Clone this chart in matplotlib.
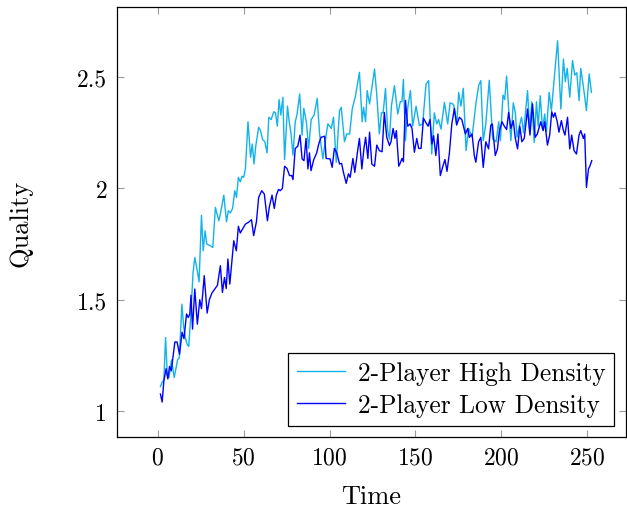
import numpy as np
import matplotlib.pyplot as plt

plt.rcParams['font.family'] = ['cmr10', 'DejaVu Serif']
plt.rcParams['mathtext.fontset'] = 'cm'
plt.rcParams['axes.formatter.use_mathtext'] = True

# 2-Player High Density
high_t = [1.5, 2.5, 3.5, 4.5, 5.5, 6.5, 8, 9.5, 10.5, 11.5, 12.5, 14, 15, 16, 17, 18, 19,
          20.5, 21.5, 22.5, 24, 25.4, 26.4, 27.5, 28.5, 30, 32, 33.5, 34.5, 35.5, 36.5, 38.4,
          40, 41, 42.2, 43.5, 44.8, 45.8, 46.9, 48, 49, 50, 51, 52.5, 54, 55, 56, 57, 58.7,
          59.8, 61, 62.3, 63.6, 64.6, 66, 67.5, 68.5, 69.6, 70.6, 71.6, 72.8, 73.8, 75.5,
          76.5, 77.5, 78.7, 80, 81, 82.6, 84, 85, 86.5, 87.8, 89.3, 91, 92.8, 94.2, 96.1,
          98, 99, 101, 102.3, 103.9, 105.8, 106.8, 108.7, 110, 111.7, 113.2, 115.1, 117.4,
          119, 119.8, 121, 121.9, 123.3, 126.2, 127.5, 129, 130.2, 131.2, 132.6, 133.8,
          134.9, 136, 137.8, 139.7, 141.2, 142.2, 143, 144.2, 145.5, 147.1, 148.4, 150.4,
          152.3, 154.2, 156.2, 157.7, 159.5, 161, 162.4, 163.5, 164.9, 166.9, 168.8, 170.2,
          172.2, 174.1, 175.2, 176.5, 177.9, 179.5, 181, 183, 185.2, 186.8, 188.1, 189.5,
          191, 193, 195, 197, 198.5, 199.5, 201, 202, 203.1, 204.2, 205.6, 207, 208.2,
          209.2, 210.5, 211.8, 213, 215.3, 216.5, 217.8, 219.2, 220.5, 221.5, 222.7, 224,
          225.3, 226.3, 227.9, 229.2, 230.3, 232.8, 234.7, 236.2, 237.3, 238.4, 239.9,
          241.5, 242.8, 244, 245.3, 246.3, 247.8, 249.6, 251.2, 252.5]
high_q = [1.11, 1.13, 1.14, 1.33, 1.16, 1.15, 1.23, 1.15, 1.19, 1.23, 1.24, 1.48, 1.38, 1.33,
          1.30, 1.29, 1.41, 1.62, 1.69, 1.65, 1.58, 1.88, 1.72, 1.81, 1.75, 1.745, 1.735,
          1.915, 1.885, 1.855, 1.89, 1.97, 1.85, 1.90, 1.89, 1.91, 1.99, 1.96, 2.05, 2.03,
          2.055, 2.05, 2.09, 2.30, 2.14, 2.20, 2.11, 2.19, 2.275, 2.26, 2.22, 2.21, 2.16,
          2.32, 2.31, 2.345, 2.34, 2.28, 2.40, 2.33, 2.41, 2.13, 2.37, 2.30, 2.25, 2.15,
          2.30, 2.33, 2.425, 2.24, 2.36, 2.30, 2.18, 2.31, 2.33, 2.405, 2.245, 2.133, 2.24,
          2.29, 2.27, 2.32, 2.118, 2.35, 2.365, 2.21, 2.245, 2.245, 2.357, 2.417, 2.522,
          2.30, 2.365, 2.30, 2.44, 2.38, 2.537, 2.42, 2.245, 2.34, 2.34, 2.45, 2.26, 2.222,
          2.37, 2.462, 2.335, 2.39, 2.39, 2.49, 2.215, 2.36, 2.44, 2.28, 2.37, 2.283, 2.29,
          2.47, 2.485, 2.155, 2.34, 2.29, 2.31, 2.267, 2.387, 2.29, 2.385, 2.378, 2.29,
          2.432, 2.37, 2.45, 2.17, 2.27, 2.23, 2.38, 2.462, 2.485, 2.215, 2.29, 2.486,
          2.222, 2.21, 2.30, 2.215, 2.42, 2.40, 2.505, 2.37, 2.215, 2.385, 2.34, 2.23, 2.28,
          2.32, 2.25, 2.44, 2.267, 2.39, 2.207, 2.39, 2.28, 2.417, 2.267, 2.335, 2.255,
          2.432, 2.35, 2.445, 2.664, 2.357, 2.582, 2.48, 2.54, 2.41, 2.575, 2.51, 2.52,
          2.395, 2.54, 2.46, 2.35, 2.515, 2.432]

# 2-Player Low Density
low_t = [1.5, 2.5, 3.5, 4.8, 5.8, 6.8, 7.8, 9.9, 11.2, 12.6, 14.1, 15.2, 16.7, 17.7, 18.6,
         19.3, 20.2, 21.5, 23, 24.4, 25.4, 27, 28.7, 30, 31.5, 33.3, 34.7, 36.4, 37.6, 38.8,
         39.8, 40.8, 41.9, 44.2, 45.7, 46.9, 48, 49.5, 51, 52.8, 54.5, 55.8, 57.4, 58.7,
         60.5, 62, 63.8, 65, 66.5, 67.8, 69, 70.3, 71.3, 72.5, 73.8, 75.2, 76.7, 78, 78.7,
         80, 81.5, 82.8, 84, 85.1, 86.3, 87.4, 88.3, 89.2, 90.8, 92.5, 93.7, 95, 97.1, 98,
         100.3, 101.5, 102.8, 104.2, 105.8, 107, 108.1, 109.7, 111, 112, 113.6, 114.7,
         116.5, 117.4, 118.8, 120, 121, 122.3, 123.3, 124.6, 126.2, 127.5, 129, 130.6,
         131.9, 133.3, 134.9, 135.8, 137, 138.1, 138.9, 140.3, 141.2, 142.2, 143, 144.2,
         145.5, 146.9, 148, 149.4, 150.8, 151.9, 153.3, 154.7, 155.8, 157.4, 158.5, 159.6,
         160.6, 161.9, 163.1, 164.5, 165.8, 167.2, 168.4, 169.8, 171.2, 172.7, 174, 175.6,
         177, 178, 179.1, 180.5, 181.4, 183, 184.3, 185.2, 186.8, 188.1, 189.5, 191, 192.6,
         193.9, 194.8, 196.5, 197.8, 198.8, 200.4, 201.8, 203.1, 204.3, 205.6, 207, 208.2,
         209.5, 210.8, 212, 213.4, 215.3, 216.7, 218.2, 219.7, 221, 223, 224.4, 225.3,
         226.9, 228.2, 229.4, 230.4, 231.3, 232.6, 233.6, 235, 236.2, 237.1, 238.6, 239.9,
         241, 242.4, 243.8, 245.3, 246.3, 247.8, 248.6, 249.6, 250.8, 251.6, 252.7]
low_q = [1.076, 1.04, 1.136, 1.19, 1.144, 1.20, 1.18, 1.31, 1.31, 1.255, 1.354, 1.325, 1.436,
         1.42, 1.436, 1.52, 1.368, 1.548, 1.39, 1.50, 1.46, 1.608, 1.44, 1.50, 1.53, 1.55,
         1.565, 1.653, 1.533, 1.60, 1.55, 1.683, 1.57, 1.765, 1.72, 1.83, 1.80, 1.82, 1.84,
         1.848, 1.86, 1.788, 1.85, 1.96, 1.99, 1.975, 1.855, 1.92, 1.97, 1.91, 1.97, 1.996,
         1.99, 2.00, 2.10, 2.09, 2.058, 2.058, 2.04, 2.18, 2.19, 2.24, 2.133, 2.125, 2.225,
         2.088, 2.16, 2.08, 2.13, 2.16, 2.20, 2.23, 2.235, 2.135, 2.133, 2.095, 2.18, 2.16,
         2.11, 2.113, 2.072, 2.023, 2.066, 2.05, 2.135, 2.072, 2.178, 2.225, 2.088, 2.178,
         2.23, 2.135, 2.253, 2.11, 2.10, 2.195, 2.17, 2.165, 2.342, 2.23, 2.193, 2.21, 2.27,
         2.225, 2.26, 2.10, 2.115, 2.135, 2.12, 2.396, 2.28, 2.29, 2.27, 2.163, 2.225, 2.18,
         2.18, 2.316, 2.30, 2.28, 2.31, 2.20, 2.237, 2.148, 2.245, 2.058, 2.095, 2.13, 2.077,
         2.16, 2.29, 2.36, 2.285, 2.32, 2.31, 2.28, 2.245, 2.27, 2.23, 2.245, 2.148, 2.118,
         2.21, 2.23, 2.095, 2.21, 2.178, 2.285, 2.29, 2.148, 2.178, 2.253, 2.30, 2.28, 2.265,
         2.342, 2.27, 2.305, 2.225, 2.178, 2.28, 2.21, 2.225, 2.357, 2.24, 2.38, 2.23, 2.245,
         2.30, 2.26, 2.30, 2.195, 2.24, 2.345, 2.32, 2.34, 2.30, 2.253, 2.305, 2.26, 2.24,
         2.32, 2.178, 2.24, 2.17, 2.155, 2.24, 2.26, 2.225, 2.245, 2.005, 2.088, 2.10, 2.125]

fig = plt.figure(figsize=(6.27, 5.10), dpi=100)
ax = fig.add_axes([0.1866, 0.1412, 0.8114, 0.8428])

ax.plot(high_t, high_q, color='#12b2ea', lw=1.0, label='2-Player High Density')
ax.plot(low_t, low_q, color='#0000ff', lw=1.0, label='2-Player Low Density')

ax.set_xlim(-23.8, 272.5)
ax.set_ylim(0.883, 2.815)
ax.set_xticks([0, 50, 100, 150, 200, 250])
ax.set_yticks([1, 1.5, 2, 2.5])
ax.set_yticklabels(['1', '1.5', '2', '2.5'])
ax.tick_params(direction='in', length=5, width=0.8, color='#999999', labelsize=17,
               top=True, right=True, pad=7)
for s in ax.spines.values():
    s.set_linewidth(0.9)

ax.set_xlabel('Time', fontsize=19, labelpad=11)
ax.set_ylabel('Quality', fontsize=19, labelpad=32)

leg = ax.legend(loc='lower right', fontsize=18.3, fancybox=False, framealpha=1,
                edgecolor='black', borderaxespad=0.45, handlelength=1.9,
                labelspacing=0.3, borderpad=0.35, handletextpad=0.5)
leg.get_frame().set_linewidth(0.9)

plt.savefig('out.png', dpi=100)
